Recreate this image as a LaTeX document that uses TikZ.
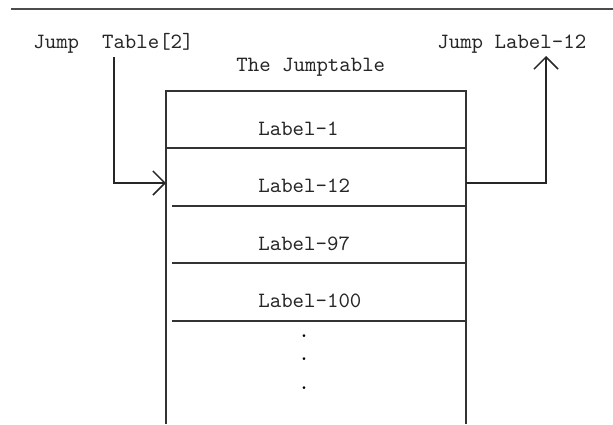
\documentclass[tikz,border=0pt]{standalone}
\usepackage{fontspec}
\usepackage{tikz}
\usetikzlibrary{arrows.meta}

\tikzset{
	txt/.style={anchor=base west, inner sep=0pt, font=\ttfamily\fontsize{10.9}{12}\selectfont, text=black!85},
	dotmark/.style={anchor=base, inner sep=0pt, font=\ttfamily\fontsize{10.9}{12}\selectfont},
	wall/.style={draw=black!80, line width=0.75pt},
	jump/.style={draw=black!85, line width=0.75pt, -{Straight Barb[length=6pt, width=12pt, line width=0.75pt]}}
}

\begin{document}
\begin{tikzpicture}[x=0.5pt, y=-0.5pt]
	\useasboundingbox (0,0) rectangle (613,424);
	\draw[draw=black!70, line width=1pt] (11,9) -- (613,9);
	\node[txt] at (33,48)(from){Jump\ \ Table[2]};
	\node[txt] at (437,48)(to){Jump Label-12};
	\node[txt] at (236,71)(title){The Jumptable};
	\draw[wall] (166,424) -- (166,91) -- (466,91) -- (466,424);
	\draw[wall] (166,148) -- (466,148);
	\draw[wall] (172,206) -- (466,206);
	\draw[wall] (172,263) -- (466,263);
	\draw[wall] (172,321) -- (466,321);
	\node[txt] at (258,135)(row1){Label-1};
	\node[txt] at (258,192)(row2){Label-12};
	\node[txt] at (258,250)(row3){Label-97};
	\node[txt] at (258,307)(row4){Label-100};
	\node[dotmark] at (304,337)(dot1){.};
	\node[dotmark] at (304,360)(dot2){.};
	\node[dotmark] at (304,389)(dot3){.};
	\coordinate (src) at (114,57);
	\coordinate (entry) at (166,183);
	\coordinate (exit) at (466,183);
	\coordinate (dst) at (546,56);
	\draw[jump] (src) |- (entry);
	\draw[jump] (exit) -| (dst);
\end{tikzpicture}
\end{document}
